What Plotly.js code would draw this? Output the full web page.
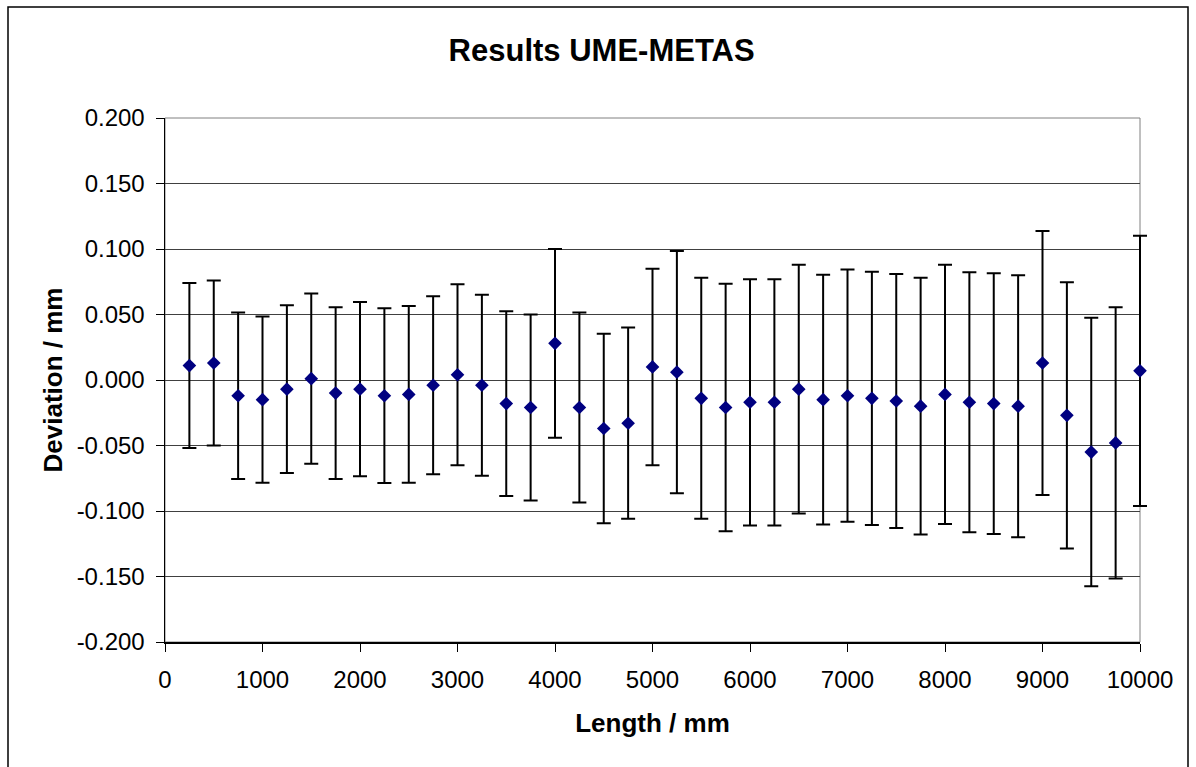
<!DOCTYPE html>
<html>
<head>
<meta charset="utf-8">
<script src="https://cdn.plot.ly/plotly-3.0.1.min.js"></script>
<style>
  html, body { margin: 0; padding: 0; background: #ffffff; }
  #chart { width: 1196px; height: 767px; }
</style>
</head>
<body>
<div id="chart"></div>
<script>
// Nominal lengths (mm)
const lengths = [250, 500, 750, 1000, 1250, 1500, 1750, 2000, 2250, 2500,
                 2750, 3000, 3250, 3500, 3750, 4000, 4250, 4500, 4750, 5000,
                 5250, 5500, 5750, 6000, 6250, 6500, 6750, 7000, 7250, 7500,
                 7750, 8000, 8250, 8500, 8750, 9000, 9250, 9500, 9750, 10000];

// Deviation UME-METAS (mm)
const deviations = [0.011, 0.013, -0.012, -0.015, -0.007, 0.001, -0.010, -0.007, -0.012, -0.011,
                    -0.004, 0.004, -0.004, -0.018, -0.021, 0.028, -0.021, -0.037, -0.033, 0.010,
                    0.006, -0.014, -0.021, -0.017, -0.017, -0.007, -0.015, -0.012, -0.014, -0.016,
                    -0.020, -0.011, -0.017, -0.018, -0.020, 0.013, -0.027, -0.055, -0.048, 0.007];

// Expanded uncertainty (mm)
const uncertainties = [0.063, 0.063, 0.0635, 0.0635, 0.064, 0.065, 0.0655, 0.0665, 0.0667, 0.0675,
                       0.068, 0.069, 0.069, 0.0705, 0.071, 0.072, 0.0725, 0.0723, 0.073, 0.075,
                       0.0925, 0.092, 0.0945, 0.094, 0.094, 0.095, 0.0954, 0.0963, 0.0966, 0.097,
                       0.098, 0.099, 0.0993, 0.0995, 0.100, 0.1007, 0.1017, 0.1025, 0.1035, 0.1031];

const yTicks = [-0.2, -0.15, -0.1, -0.05, 0, 0.05, 0.1, 0.15, 0.2];
const yTickLabels = ['-0.200', '-0.150', '-0.100', '-0.050', '0.000', '0.050', '0.100', '0.150', '0.200'];
const xTicks = [0, 1000, 2000, 3000, 4000, 5000, 6000, 7000, 8000, 9000, 10000];
const xTickLabels = ['0', '1000', '2000', '3000', '4000', '5000', '6000', '7000', '8000', '9000', '10000'];

const FONT = '"Liberation Sans", Arial, sans-serif';

const trace = {
  type: 'scatter',
  mode: 'markers',
  x: lengths,
  y: deviations,
  cliponaxis: false,
  marker: { symbol: 'diamond', size: 10.5, color: '#000080', line: { width: 0 } },
  error_y: {
    type: 'data',
    array: uncertainties,
    visible: true,
    color: '#000000',
    thickness: 2,
    width: 7
  },
  hoverinfo: 'x+y'
};

const layout = {
  width: 1196,
  height: 767,
  margin: { l: 165, r: 56, t: 118, b: 125, pad: 0 },
  paper_bgcolor: '#ffffff',
  plot_bgcolor: '#ffffff',
  showlegend: false,
  font: { family: FONT, color: '#000000' },
  title: {
    text: '<b>Results UME-METAS</b>',
    font: { family: FONT, size: 31, color: '#000000' },
    xref: 'container', x: 0.503, xanchor: 'center',
    yref: 'container', y: 1 - 50 / 767, yanchor: 'middle'
  },
  xaxis: {
    range: [0, 10000],
    tickvals: xTicks,
    ticktext: xTickLabels,
    ticks: 'outside',
    ticklen: 8,
    tickwidth: 1,
    tickcolor: '#000000',
    ticklabelstandoff: 8,
    showgrid: false,
    zeroline: false,
    showline: true,
    linecolor: '#000000',
    linewidth: 1.5,
    tickfont: { family: FONT, size: 24, color: '#000000' },
    title: {
      text: '<b>Length / mm</b>',
      font: { family: FONT, size: 26, color: '#000000' },
      standoff: 21
    },
    automargin: false,
    fixedrange: true
  },
  yaxis: {
    range: [-0.2, 0.2],
    tickvals: yTicks,
    ticktext: yTickLabels,
    ticks: 'outside',
    ticklen: 8,
    tickwidth: 1,
    tickcolor: '#000000',
    ticklabelstandoff: 6,
    showgrid: true,
    gridcolor: '#404040',
    gridwidth: 1,
    zeroline: false,
    showline: true,
    linecolor: '#000000',
    linewidth: 1.5,
    tickfont: { family: FONT, size: 24, color: '#000000' },
    title: {
      text: '<b>Deviation / mm</b>',
      font: { family: FONT, size: 26, color: '#000000' },
      standoff: 6
    },
    automargin: false,
    fixedrange: true
  },
  shapes: [
    {
      type: 'rect', xref: 'paper', yref: 'paper',
      x0: 0, x1: 1, y0: 0, y1: 1,
      line: { color: '#808080', width: 1 },
      layer: 'below'
    },
    {
      type: 'rect', xref: 'paper', yref: 'paper',
      x0: (8 - 165) / 975, x1: (1188 - 165) / 975,
      y0: (642 - 800) / 524, y1: (642 - 7) / 524,
      line: { color: '#000000', width: 1.5 },
      layer: 'below'
    }
  ]
};

function unclipErrorBars(gd) {
  // let the error bar at the axis edge show its full cap, as in the reference
  const start = gd.querySelectorAll('.scatterlayer, .scatterlayer *');
  start.forEach(function (el) {
    let node = el;
    while (node && node.tagName && node.tagName.toLowerCase() !== 'svg') {
      if (node.hasAttribute('clip-path')) node.removeAttribute('clip-path');
      if (node.style && node.style.clipPath) node.style.clipPath = '';
      node = node.parentNode;
    }
  });
}

Plotly.newPlot('chart', [trace], layout, { displayModeBar: false, staticPlot: true }).then(function (gd) {
  unclipErrorBars(gd);
  setTimeout(function () { unclipErrorBars(gd); }, 50);
});
</script>
</body>
</html>
